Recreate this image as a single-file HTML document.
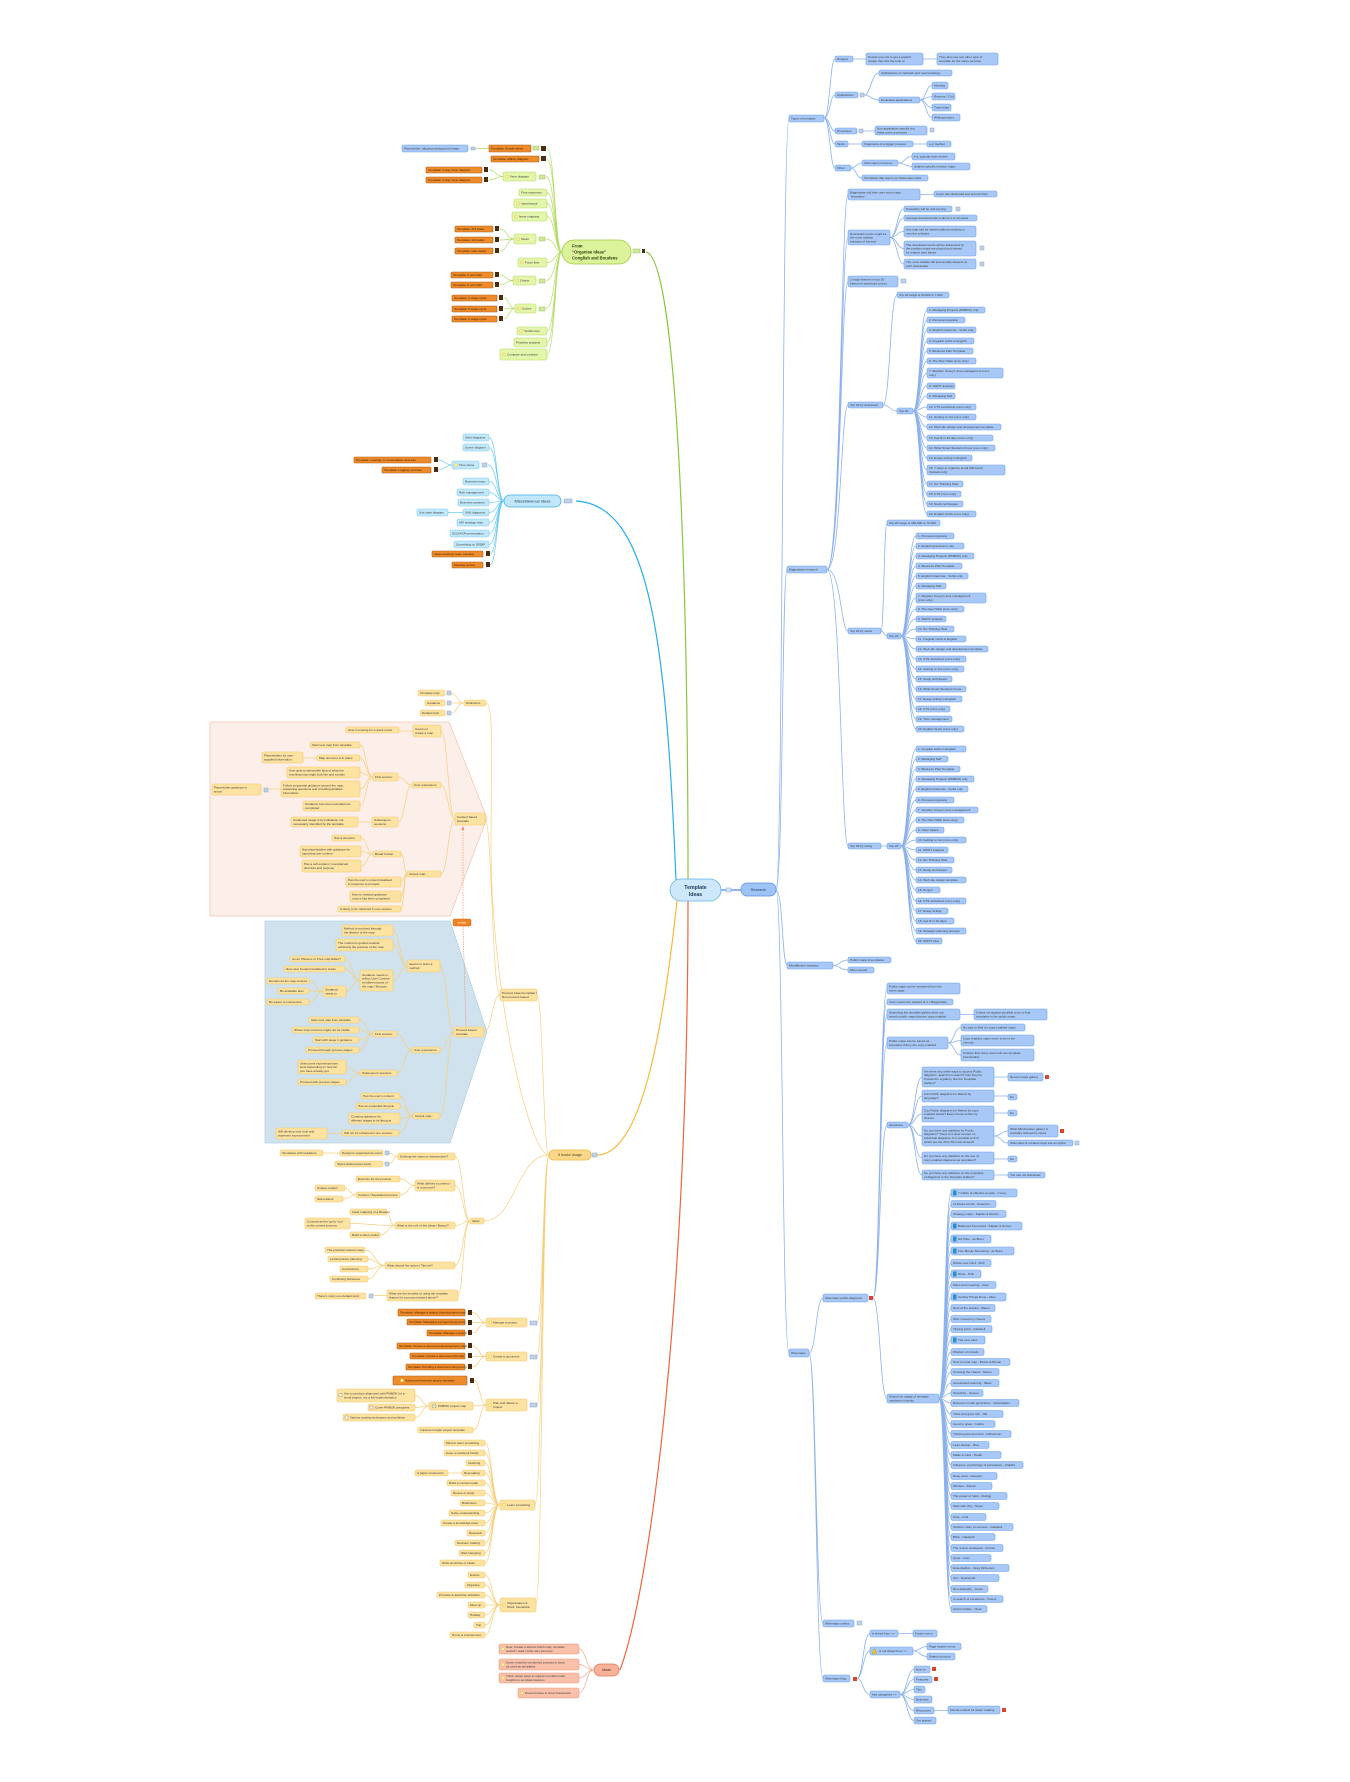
<!DOCTYPE html>
<html><head><meta charset="utf-8"><style>
html,body{margin:0;padding:0;background:#fff}
svg{display:block}
text{font-family:"Liberation Sans",sans-serif;font-size:3.1px;fill:#3a3a3a}
.b{fill:#a8c9f7;stroke:#6c9fe8;stroke-width:.6;rx:1.8px}
.g{fill:#e3f6ab;stroke:#b3dc5c;stroke-width:.6;rx:1.8px}
.o{fill:#ee8b2b;stroke:#a95f16;stroke-width:.6;rx:1px}
.c{fill:#c3e8fa;stroke:#79ccf1;stroke-width:.6;rx:1.8px}
.y{fill:#fde3a1;stroke:#f4c667;stroke-width:.6;rx:1.8px}
.r{fill:#f9c0aa;stroke:#ee9a7c;stroke-width:.6;rx:1.8px}
.ic{fill:#c0d3ec;stroke:#7a93b8;stroke-width:.4}
.gi{fill:#cfe89a;stroke:#8fb44a;stroke-width:.4}
.ar{fill:#4a2a10}
.rd{fill:#d9442c}
.bk{fill:#2d8fc9}
.bl{fill:#fff3a0;stroke:#d9b93a;stroke-width:.4}
.ot{fill:#3a1c00}
.eb{fill:none;stroke:#6f9fe8;stroke-opacity:.8;stroke-width:.8}
.eg{fill:none;stroke:#b5dc66;stroke-width:.7}
.ec{fill:none;stroke:#6ccaf0;stroke-width:.7}
.ey{fill:none;stroke:#f6cf7c;stroke-width:.7}
.er{fill:none;stroke:#f2a88e;stroke-width:.7}
</style></head><body>
<svg width="1350" height="1782" viewBox="0 0 1350 1782" xmlns="http://www.w3.org/2000/svg">
<!-- regions -->
<polygon points="210,722 449,722 487,818 450,916 210,916" fill="#fcefe9" stroke="#f3c9b2" stroke-width=".8"/>
<polygon points="265,921 450,921 487,1032 450,1143 265,1143" fill="#cfe2ee" stroke="#b5d3e6" stroke-width=".8"/>

<!-- main links -->
<path d="M688 879C688 560 676 258 646 252" fill="none" stroke="#8cc63f" stroke-width="1.2"/>
<path d="M676 880C666 640 650 505 576 501" fill="none" stroke="#29aee6" stroke-width="1.2"/>
<path d="M677 901C662 1040 640 1155 597 1155" fill="none" stroke="#f6b93b" stroke-width="1.2"/>
<path d="M688 901C688 1300 650 1590 620 1670" fill="none" stroke="#f0643c" stroke-width="1.2"/>
<path d="M721 890H741" fill="none" stroke="#4f8ae0" stroke-width="1.2"/>

<!-- blue edges -->
<path class="eb" d="M776 890C783 890 782 118 789 118M776 890C783 890 782 569 787 569M776 890C783 890 782 965 787 965M776 890C783 890 782 1353 789 1353
M824 118C830 118 830 59 835 59M824 118C830 118 830 95 835 95M824 118C830 118 830 131 835 131M824 118C830 118 830 144 835 144M824 118C830 118 830 168 835 168
M853 59H866M923 59H937M864 95C871 95 871 73 879 73M864 95C871 95 871 100 879 100
M920 100C926 100 926 85.5 932 85.5M920 100C926 100 926 96.5 932 96.5M920 100C926 100 926 107.5 932 107.5M920 100C926 100 926 117.5 932 117.5
M863 131H875M848 144H862M913 144H927M851 168C856 168 856 163 862 163M851 168C856 168 856 178 862 178
M898 163C905 163 905 156.5 912 156.5M898 163C905 163 905 166.5 912 166.5
M827 569.5C841 569.5 841 194.5 848 194.5M827 569.5C841 569.5 841 237.5 848 237.5M827 569.5C841 569.5 841 281.5 848 281.5M827 569.5C841 569.5 841 405 848 405M827 569.5C841 569.5 841 631 848 631M827 569.5C841 569.5 841 846 848 846
M920 194.5H934M890 237.5C897 237.5 897 209 904 209M890 237.5C897 237.5 897 218 904 218M890 237.5C897 237.5 897 231.5 904 231.5M890 237.5C897 237.5 897 248.5 904 248.5M890 237.5C897 237.5 897 264 904 264
M883 405C890 405 890 295 897 295M883 405C890 405 890 411 897 411
M913 411C920 411 920 310 927 310M913 411C920 411 920 320 927 320M913 411C920 411 920 330 927 330M913 411C920 411 920 341 927 341M913 411C920 411 920 351 927 351M913 411C920 411 920 361 927 361M913 411C920 411 920 373 927 373M913 411C920 411 920 386 927 386M913 411C920 411 920 396 927 396M913 411C920 411 920 407 927 407M913 411C920 411 920 417 927 417M913 411C920 411 920 427 927 427M913 411C920 411 920 438 927 438M913 411C920 411 920 448 927 448M913 411C920 411 920 458 927 458M913 411C920 411 920 470 927 470M913 411C920 411 920 484 927 484M913 411C920 411 920 494 927 494M913 411C920 411 920 504 927 504M913 411C920 411 920 514 927 514
M881 631C884 631 884 523 887 523M881 631C884 631 884 636 887 636
M901 636C908 636 908 536 916 536M901 636C908 636 908 546 916 546M901 636C908 636 908 556 916 556M901 636C908 636 908 566 916 566M901 636C908 636 908 576 916 576M901 636C908 636 908 586 916 586M901 636C908 636 908 598 916 598M901 636C908 636 908 609 916 609M901 636C908 636 908 619 916 619M901 636C908 636 908 629 916 629M901 636C908 636 908 639 916 639M901 636C908 636 908 649 916 649M901 636C908 636 908 659 916 659M901 636C908 636 908 669 916 669M901 636C908 636 908 679 916 679M901 636C908 636 908 689 916 689M901 636C908 636 908 699 916 699M901 636C908 636 908 709 916 709M901 636C908 636 908 719 916 719M901 636C908 636 908 729 916 729
M881 846H887
M901 846C908 846 908 749 916 749M901 846C908 846 908 759 916 759M901 846C908 846 908 769 916 769M901 846C908 846 908 779 916 779M901 846C908 846 908 789 916 789M901 846C908 846 908 800 916 800M901 846C908 846 908 810 916 810M901 846C908 846 908 820 916 820M901 846C908 846 908 830 916 830M901 846C908 846 908 840 916 840M901 846C908 846 908 850 916 850M901 846C908 846 908 860 916 860M901 846C908 846 908 870 916 870M901 846C908 846 908 880 916 880M901 846C908 846 908 890 916 890M901 846C908 846 908 901 916 901M901 846C908 846 908 911 916 911M901 846C908 846 908 921 916 921M901 846C908 846 908 931 916 931M901 846C908 846 908 941 916 941
M833 965.5C840 965.5 840 960 848 960M833 965.5C840 965.5 840 970 848 970
M809 1353C816 1353 816 1298 823 1298M809 1353C816 1353 816 1623.5 823 1623.5M809 1353C816 1353 816 1678.5 823 1678.5
M873 1298C880 1298 880 988.5 887 988.5M873 1298C880 1298 880 1002 887 1002M873 1298C880 1298 880 1014.5 887 1014.5M873 1298C880 1298 880 1043 887 1043M873 1298C880 1298 880 1125 887 1125M873 1298C880 1298 880 1398.5 887 1398.5
M960 1014.5H974M948 1043C954 1043 954 1027.5 961 1027.5M948 1043C954 1043 954 1040.5 961 1040.5M948 1043C954 1043 954 1055 961 1055
M908 1125C915 1125 915 1077 922 1077M908 1125C915 1125 915 1096 922 1096M908 1125C915 1125 915 1114 922 1114M908 1125C915 1125 915 1136 922 1136M908 1125C915 1125 915 1158 922 1158M908 1125C915 1125 915 1175 922 1175
M994 1077H1008M994 1096H1008M994 1113H1008M994 1136C1001 1136 1001 1131 1008 1131M994 1136C1001 1136 1001 1143 1008 1143M994 1159H1008M994 1175H1008
M939 1398.5C945 1398.5 945 1193 951 1193M939 1398.5C945 1398.5 945 1204 951 1204M939 1398.5C945 1398.5 945 1214 951 1214M939 1398.5C945 1398.5 945 1226 951 1226M939 1398.5C945 1398.5 945 1239 951 1239M939 1398.5C945 1398.5 945 1251 951 1251M939 1398.5C945 1398.5 945 1263 951 1263M939 1398.5C945 1398.5 945 1274 951 1274M939 1398.5C945 1398.5 945 1285 951 1285M939 1398.5C945 1398.5 945 1297 951 1297M939 1398.5C945 1398.5 945 1308 951 1308M939 1398.5C945 1398.5 945 1319 951 1319M939 1398.5C945 1398.5 945 1329 951 1329M939 1398.5C945 1398.5 945 1340 951 1340M939 1398.5C945 1398.5 945 1352 951 1352M939 1398.5C945 1398.5 945 1362 951 1362M939 1398.5C945 1398.5 945 1372 951 1372M939 1398.5C945 1398.5 945 1383 951 1383M939 1398.5C945 1398.5 945 1393 951 1393M939 1398.5C945 1398.5 945 1403 951 1403M939 1398.5C945 1398.5 945 1414 951 1414M939 1398.5C945 1398.5 945 1424 951 1424M939 1398.5C945 1398.5 945 1434 951 1434M939 1398.5C945 1398.5 945 1445 951 1445M939 1398.5C945 1398.5 945 1455 951 1455M939 1398.5C945 1398.5 945 1465 951 1465M939 1398.5C945 1398.5 945 1476 951 1476M939 1398.5C945 1398.5 945 1486 951 1486M939 1398.5C945 1398.5 945 1496 951 1496M939 1398.5C945 1398.5 945 1506 951 1506M939 1398.5C945 1398.5 945 1517 951 1517M939 1398.5C945 1398.5 945 1527 951 1527M939 1398.5C945 1398.5 945 1537 951 1537M939 1398.5C945 1398.5 945 1548 951 1548M939 1398.5C945 1398.5 945 1558 951 1558M939 1398.5C945 1398.5 945 1568 951 1568M939 1398.5C945 1398.5 945 1578 951 1578M939 1398.5C945 1398.5 945 1589 951 1589M939 1398.5C945 1398.5 945 1599 951 1599M939 1398.5C945 1398.5 945 1609 951 1609
M857 1678.5C863 1678.5 863 1633.5 870 1633.5M857 1678.5C863 1678.5 863 1651 870 1651M857 1678.5C863 1678.5 863 1694.5 870 1694.5
M898 1633.5H913M913 1651C920 1651 920 1646.5 927 1646.5M913 1651C920 1651 920 1656.5 927 1656.5
M900 1694.5C907 1694.5 907 1669.5 914 1669.5M900 1694.5C907 1694.5 907 1679.5 914 1679.5M900 1694.5C907 1694.5 907 1689.5 914 1689.5M900 1694.5C907 1694.5 907 1699.5 914 1699.5M900 1694.5C907 1694.5 907 1710.5 914 1710.5M900 1694.5C907 1694.5 907 1720.5 914 1720.5M934 1710.5H948"/>

<!-- green edges -->
<path class="eg" d="M562 252C555 252 555 148.5 547 148.5M562 252C555 252 555 159 547 159M562 252C555 252 555 176.5 546 176.5M562 252C555 252 555 192.5 547 192.5M562 252C555 252 555 203.5 547 203.5M562 252C555 252 555 216.5 547 216.5M562 252C555 252 555 239 546 239M562 252C555 252 555 262.5 547 262.5M562 252C555 252 555 280.5 546 280.5M562 252C555 252 555 308.5 546 308.5M562 252C555 252 555 331 547 331M562 252C555 252 555 342.5 547 342.5M562 252C555 252 555 354.5 547 354.5
M489 148.5H475M503 176.5C496 176.5 496 170 489 170M503 176.5C496 176.5 496 180 489 180
M514 239C507 239 507 229 500 229M514 239C507 239 507 240 500 240M514 239C507 239 507 251 500 251
M513 280.5C506 280.5 506 275 500 275M513 280.5C506 280.5 506 285 500 285
M515 308.5C509 308.5 509 298 504 298M515 308.5C509 308.5 509 309 504 309M515 308.5C509 308.5 509 319 504 319"/>

<!-- cyan edges -->
<path class="ec" d="M504 501C497 501 497 437.5 489 437.5M504 501C497 501 497 447.5 489 447.5M504 501C497 501 497 465 488 465M504 501C497 501 497 481.5 489 481.5M504 501C497 501 497 492.5 489 492.5M504 501C497 501 497 502.5 489 502.5M504 501C497 501 497 512.5 489 512.5M504 501C497 501 497 522.5 489 522.5M504 501C497 501 497 533.5 489 533.5M504 501C497 501 497 544.5 489 544.5M504 501C497 501 497 554 490 554M504 501C497 501 497 565 490 565
M452 465C445 465 445 460 438 460M452 465C445 465 445 470 438 470M463 512.5H448"/>

<!-- yellow edges -->
<path class="ey" d="M549 1155C530 1155 492 1000 491 850C491 760 494 703 486 703
M549 1155C543 1155 543 995 537 995M549 1155C516 1155 516 1221 484 1221
M549 1155C543 1155 543 1322.5 537 1322.5M549 1155C543 1155 543 1356.5 537 1356.5M549 1155C543 1155 543 1405 537 1405
M549 1155C542 1155 542 1505 535 1505M549 1155C542 1155 542 1605 536 1605
M500 995C492 995 492 819 485 819M500 995C492 995 492 1032 484 1032
M464 703C457 703 457 693 451 693M464 703H451M464 703C457 703 457 713 451 713
M455 819C448 819 448 731 441 731M455 819C448 819 448 785 441 785M455 819C448 819 448 873.5 441 873.5
M413 731H399M412 785C405 785 405 777 398 777M412 785C405 785 405 822 398 822
M373 777C366 777 366 745 360 745M373 777C366 777 366 758 360 758M373 777C366 777 366 772.5 360 772.5M373 777C366 777 366 789 360 789M373 777C366 777 366 806 360 806
M317 758H303M281 789H268M372 822H358
M407 873.5C404 873.5 404 854 401 854M407 873.5C404 873.5 404 882 401 882M407 873.5C404 873.5 404 896.5 401 896.5M407 873.5C404 873.5 404 909 401 909
M373 854C367 854 367 838 361 838M373 854C367 854 367 851.5 361 851.5M373 854C367 854 367 866 361 866
M454 1032C447 1032 447 966 440 966M454 1032C447 1032 447 1050 440 1050M454 1032C447 1032 447 1116 440 1116
M407 966C400 966 400 930.5 393 930.5M407 966C400 966 400 945 393 945M407 966C400 966 400 980.5 393 980.5
M360 980.5C352 980.5 352 959 345 959M360 980.5C352 980.5 352 969 345 969M360 980.5C352 980.5 352 991.5 346 991.5
M323 991.5C316 991.5 316 981 309 981M323 991.5C316 991.5 316 991 309 991M323 991.5C316 991.5 316 1002 309 1002
M412 1050C404 1050 404 1034 397 1034M412 1050C404 1050 404 1073 397 1073
M373 1034C366 1034 366 1020 359 1020M373 1034C366 1034 366 1030 359 1030M373 1034C366 1034 366 1040 359 1040M373 1034C366 1034 366 1050 359 1050
M360 1073C353 1073 353 1067 346 1067M360 1073C353 1073 353 1082 346 1082
M413 1116C406 1116 406 1096 400 1096M413 1116C406 1116 406 1106 400 1106M413 1116C406 1116 406 1118.5 400 1118.5M413 1116C406 1116 406 1133 399 1133M342 1133.5H327
M470 1221C463 1221 463 1156.5 455 1156.5M470 1221C463 1221 463 1185.5 455 1185.5M470 1221C463 1221 463 1225.5 455 1225.5M470 1221C463 1221 463 1265.5 455 1265.5M470 1221C463 1221 463 1295.5 458 1295.5
M398 1156.5C393 1156.5 393 1153 389 1153M398 1156.5C393 1156.5 393 1164 389 1164M340 1153H323
M415 1185.5C408 1185.5 408 1179 400 1179M415 1185.5C408 1185.5 408 1195 400 1195M356 1195C350 1195 350 1188 345 1188M356 1195C350 1195 350 1199 343 1199
M395 1225.5C390 1225.5 390 1212 387 1212M395 1225.5C372 1225.5 372 1223.5 350 1223.5M395 1225.5C388 1225.5 388 1235 380 1235
M385 1265.5C375 1265.5 375 1250 365 1250M385 1265.5C376 1265.5 376 1259 368 1259M385 1265.5C376 1265.5 376 1269 368 1269M385 1265.5C376 1265.5 376 1279 368 1279M387 1295.5H373
M486 1322.5C479 1322.5 479 1312.5 472 1312.5M486 1322.5H472M486 1322.5C479 1322.5 479 1333 472 1333
M486 1356.5C479 1356.5 479 1346 472 1346M486 1356.5H472M486 1356.5C479 1356.5 479 1367 472 1367
M486 1405C480 1405 480 1380.5 474 1380.5M486 1405C480 1405 480 1406 473 1406M486 1405C480 1405 480 1430 473 1430
M429 1406C422 1406 422 1395.5 415 1395.5M429 1406C422 1406 422 1407.5 415 1407.5M429 1406C422 1406 422 1417.5 415 1417.5
M500 1505C492 1505 492 1443 485 1443M500 1505C492 1505 492 1453 485 1453M500 1505C492 1505 492 1463 485 1463M500 1505C492 1505 492 1473 485 1473M500 1505C492 1505 492 1483 485 1483M500 1505C492 1505 492 1493 485 1493M500 1505C492 1505 492 1503 485 1503M500 1505C492 1505 492 1513 485 1513M500 1505C492 1505 492 1523 485 1523M500 1505C492 1505 492 1533 485 1533M500 1505C492 1505 492 1543 485 1543M500 1505C492 1505 492 1553 485 1553M500 1505C492 1505 492 1563 485 1563M462 1473H448
M500 1605C492 1605 492 1575 485 1575M500 1605C492 1605 492 1585 485 1585M500 1605C492 1605 492 1595 485 1595M500 1605C492 1605 492 1605 485 1605M500 1605C492 1605 492 1615 485 1615M500 1605C492 1605 492 1625 485 1625M500 1605C492 1605 492 1635 485 1635"/>

<!-- red edges -->
<path class="er" d="M594 1670C586 1670 586 1649 579 1649M594 1670C586 1670 586 1664.5 579 1664.5M594 1670C586 1670 586 1678 579 1678M594 1670C586 1670 586 1693 579 1693"/>

<!-- similar dashed -->
<path d="M463 827V919M463 926L466 1027" fill="none" stroke="#ee8a68" stroke-width=".6" stroke-dasharray="1.5 1"/>
<polygon points="461.5,830 463,826 464.5,830" fill="#ee8a68"/>
<rect x="453" y="919" width="18" height="7" rx="1.5" fill="#ef8424" stroke="#c4661a" stroke-width=".5"/><text x="462" y="923.6" text-anchor="middle" style="fill:#fff;font-size:3px">similar</text>

<!-- CENTER -->
<rect x="670" y="879" width="51" height="22" rx="11" fill="#cde8fb" stroke="#68b2e8" stroke-width=".8"/>
<text x="695.5" y="888.8" text-anchor="middle" style="font-size:5.2px;font-weight:bold;fill:#1f3a5a">Template</text>
<text x="695.5" y="895.8" text-anchor="middle" style="font-size:5.2px;font-weight:bold;fill:#1f3a5a">Ideas</text>
<rect x="726" y="888" width="5" height="4" fill="#dbe8fb" stroke="#5b8fe3" stroke-width=".4"/>
<rect x="741" y="883" width="35" height="13" rx="6" fill="#9ec3f5" stroke="#5b8fe3" stroke-width=".7"/>
<text x="758.5" y="891" text-anchor="middle" style="font-size:3.6px;fill:#1f3a5a">Research</text>

<!-- RESEARCH: types -->
<rect class="b" x="789" y="115" width="35" height="7"/><text x="791" y="119.6">Types of template</text>
<rect class="b" x="835" y="56" width="18" height="6"/><text x="837" y="60.1">Designs</text>
<rect class="b" x="866" y="53" width="57" height="12"/><text x="868" y="58.2">People use mis to get a graphic<tspan x="868" dy="3.8">design they like the look of</tspan></text>
<rect class="b" x="937" y="53" width="61" height="12"/><text x="939" y="58.2">They also use any other type of<tspan x="939" dy="3.8">template for the same purpose</tspan></text>
<rect class="b" x="835" y="92" width="23" height="6"/><text x="837" y="96.1">Applications</text><rect class="ic" x="860" y="93" width="4" height="4"/>
<rect class="b" x="879" y="70" width="73" height="6"/><text x="881" y="74.1">Applications of methods and macrostrategy</text>
<rect class="b" x="879" y="97" width="41" height="6"/><text x="881" y="101.1">Dedicated applications</text>
<rect class="b" x="932" y="82" width="16" height="7"/><text x="934" y="86.6">Meeting</text>
<rect class="b" x="932" y="93" width="23" height="7"/><text x="934" y="97.6">Resume / CVs</text>
<rect class="b" x="932" y="104" width="19" height="7"/><text x="934" y="108.6">Travel plan</text>
<rect class="b" x="932" y="114" width="28" height="7"/><text x="934" y="118.6">Writing project</text>
<rect class="b" x="835" y="128" width="22" height="6"/><text x="837" y="132.1">Processes</text><rect class="ic" x="859" y="129" width="4" height="4"/>
<rect class="b" x="875" y="126" width="52" height="9"/><text x="877" y="129.7">Non application specific but<tspan x="877" dy="3.8">helps users a process</tspan></text><rect class="ic" x="930" y="128" width="4" height="4"/>
<rect class="b" x="835" y="141" width="13" height="6"/><text x="837" y="145.1">Tasks</text>
<rect class="b" x="862" y="141" width="51" height="6"/><text x="864" y="145.1">Fragments of a bigger process</text>
<rect class="b" x="927" y="141" width="24" height="6"/><text x="929" y="145.1">e.g. GetSet</text>
<rect class="b" x="835" y="165" width="16" height="6"/><text x="837" y="169.1">Other</text>
<rect class="b" x="862" y="160" width="36" height="6"/><text x="864" y="164.1">Information resource</text>
<rect class="b" x="912" y="153" width="43" height="7"/><text x="914" y="157.6">e.g. popular tools review</text>
<rect class="b" x="912" y="163" width="58" height="7"/><text x="914" y="167.6">Subject specific revision maps</text>
<rect class="b" x="862" y="175" width="66" height="6"/><text x="864" y="179.1">Templates that teach you Wisemaps skills</text>

<!-- RESEARCH: biggerplate -->
<rect class="b" x="787" y="566" width="40" height="7"/><text x="789" y="570.6">Biggerplate research</text>
<rect class="b" x="848" y="189" width="72" height="11"/><text x="850" y="193.7">Biggerplate call their user mind maps<tspan x="850" dy="3.8">“templates”</tspan></text>
<rect class="b" x="934" y="191" width="63" height="6"/><text x="936" y="195.1">Users can download and amend them</text>
<rect class="b" x="848" y="230" width="42" height="15"/><text x="850" y="234.8">Download counts might be<tspan x="850" dy="3.8">the most realistic</tspan><tspan x="850" dy="3.8">indicator of interest</tspan></text>
<rect class="b" x="904" y="206" width="48" height="6"/><text x="906" y="210.1">Popularity will be self-serving</text><rect class="ic" x="956" y="207" width="4" height="4"/>
<rect class="b" x="904" y="215" width="73" height="6"/><text x="906" y="219.1">Average download rate is about 1 in 10 views</text>
<rect class="b" x="904" y="226" width="72" height="11"/><text x="906" y="230.7">Any map can be viewed without needing to<tspan x="906" dy="3.8">own the software</tspan></text>
<rect class="b" x="904" y="241" width="72" height="15"/><text x="906" y="245.8">The download counts will be influenced by<tspan x="906" dy="3.8">the position maps are placed and viewed</tspan><tspan x="906" dy="3.8">by relative user bases</tspan></text><rect class="ic" x="980" y="246" width="4" height="4"/>
<rect class="b" x="904" y="259" width="72" height="10"/><text x="906" y="263.2">The most reliable will presumably depend on<tspan x="906" dy="3.8">prior downloads</tspan></text><rect class="ic" x="980" y="262" width="4" height="4"/>
<rect class="b" x="848" y="276" width="50" height="11"/><text x="850" y="280.7">2 major themes in top 20<tspan x="850" dy="3.8">based on download counts</tspan></text><rect class="ic" x="901" y="279" width="5" height="4"/>
<rect class="b" x="848" y="402" width="35" height="6"/><text x="850" y="406.1">Top 20 by download</text>
<rect class="b" x="897" y="292" width="52" height="6"/><text x="899" y="296.1">Top 20 range is 20,000 to 7,000</text>
<rect class="b" x="897" y="408" width="16" height="6"/><text x="899" y="412.1">Top 20</text>
<rect class="b" x="927" y="307" width="58" height="6"/><text x="929" y="311.1">1. Managing Projects (PMBOK) only</text>
<rect class="b" x="927" y="317" width="38" height="6"/><text x="929" y="321.1">2. Personal organizer</text>
<rect class="b" x="927" y="327" width="49" height="6"/><text x="929" y="331.1">3. English Grammar - Verbs only</text>
<rect class="b" x="927" y="338" width="47" height="6"/><text x="929" y="342.1">4. Irregular verbs in English</text>
<rect class="b" x="927" y="348" width="46" height="6"/><text x="929" y="352.1">5. Business Plan Template</text>
<rect class="b" x="927" y="358" width="49" height="6"/><text x="929" y="362.1">6. The New Habit (xxxx only)</text>
<rect class="b" x="927" y="368" width="76" height="10"/><text x="929" y="372.2">7. Stephen Covey's time management (xxxx<tspan x="929" dy="3.8">only)</tspan></text>
<rect class="b" x="927" y="383" width="28" height="6"/><text x="929" y="387.1">8. SWOT analysis</text>
<rect class="b" x="927" y="393" width="28" height="6"/><text x="929" y="397.1">9. Managing Self</text>
<rect class="b" x="927" y="404" width="49" height="6"/><text x="929" y="408.1">10. CTS worksheet (xxxx only)</text>
<rect class="b" x="927" y="414" width="49" height="6"/><text x="929" y="418.1">11. Getting to Yes (xxxx only)</text>
<rect class="b" x="927" y="424" width="74" height="6"/><text x="929" y="428.1">12. Web site design and development template</text>
<rect class="b" x="927" y="435" width="66" height="6"/><text x="929" y="439.1">13. Get fit in 10 days (xxxx only)</text>
<rect class="b" x="927" y="445" width="68" height="6"/><text x="929" y="449.1">14. What Smart Students Know (xxxx only)</text>
<rect class="b" x="927" y="455" width="45" height="6"/><text x="929" y="459.1">15. Essay writing in English</text>
<rect class="b" x="927" y="465" width="78" height="10"/><text x="929" y="469.2">16. 7 ways to organize email (Microsoft<tspan x="929" dy="3.8">Outlook only)</tspan></text>
<rect class="b" x="927" y="481" width="36" height="6"/><text x="929" y="485.1">17. Six Thinking Hats</text>
<rect class="b" x="927" y="491" width="34" height="6"/><text x="929" y="495.1">18. CTS (xxxx only)</text>
<rect class="b" x="927" y="501" width="36" height="6"/><text x="929" y="505.1">19. Study techniques</text>
<rect class="b" x="927" y="511" width="49" height="6"/><text x="929" y="515.1">20. English Verbs (xxxx only)</text>

<rect class="b" x="848" y="628" width="33" height="6"/><text x="850" y="632.1">Top 20 by views</text>
<rect class="b" x="887" y="520" width="53" height="6"/><text x="889" y="524.1">Top 20 range is 450,000 to 70,000</text>
<rect class="b" x="887" y="633" width="14" height="6"/><text x="889" y="637.1">Top 20</text>
<rect class="b" x="916" y="533" width="38" height="6"/><text x="918" y="537.1">1. Personal organizer</text>
<rect class="b" x="916" y="543" width="48" height="6"/><text x="918" y="547.1">2. English grammar in use</text>
<rect class="b" x="916" y="553" width="58" height="6"/><text x="918" y="557.1">3. Managing Projects (PMBOK) only</text>
<rect class="b" x="916" y="563" width="46" height="6"/><text x="918" y="567.1">4. Business Plan Template</text>
<rect class="b" x="916" y="573" width="52" height="6"/><text x="918" y="577.1">5. English Grammar - Verbs only</text>
<rect class="b" x="916" y="583" width="30" height="6"/><text x="918" y="587.1">6. Managing Self</text>
<rect class="b" x="916" y="593" width="70" height="10"/><text x="918" y="597.2">7. Stephen Covey's time management<tspan x="918" dy="3.8">(xxxx only)</tspan></text>
<rect class="b" x="916" y="606" width="48" height="6"/><text x="918" y="610.1">8. The New Habit (xxxx only)</text>
<rect class="b" x="916" y="616" width="30" height="6"/><text x="918" y="620.1">9. SWOT analysis</text>
<rect class="b" x="916" y="626" width="38" height="6"/><text x="918" y="630.1">10. Six Thinking Hats</text>
<rect class="b" x="916" y="636" width="50" height="6"/><text x="918" y="640.1">11. Irregular verbs in English</text>
<rect class="b" x="916" y="646" width="72" height="6"/><text x="918" y="650.1">12. Web site design and development template</text>
<rect class="b" x="916" y="656" width="50" height="6"/><text x="918" y="660.1">13. CTS worksheet (xxxx only)</text>
<rect class="b" x="916" y="666" width="48" height="6"/><text x="918" y="670.1">14. Getting to Yes (xxxx only)</text>
<rect class="b" x="916" y="676" width="36" height="6"/><text x="918" y="680.1">15. Study techniques</text>
<rect class="b" x="916" y="686" width="50" height="6"/><text x="918" y="690.1">16. What Smart Students Know</text>
<rect class="b" x="916" y="696" width="46" height="6"/><text x="918" y="700.1">17. Essay writing in English</text>
<rect class="b" x="916" y="706" width="34" height="6"/><text x="918" y="710.1">18. CTS (xxxx only)</text>
<rect class="b" x="916" y="716" width="36" height="6"/><text x="918" y="720.1">19. Time management</text>
<rect class="b" x="916" y="726" width="48" height="6"/><text x="918" y="730.1">20. English Verbs (xxxx only)</text>

<rect class="b" x="848" y="843" width="33" height="6"/><text x="850" y="847.1">Top 20 by rating</text>
<rect class="b" x="887" y="843" width="14" height="6"/><text x="889" y="847.1">Top 20</text>
<rect class="b" x="916" y="746" width="50" height="6"/><text x="918" y="750.1">1. Irregular verbs in English</text>
<rect class="b" x="916" y="756" width="32" height="6"/><text x="918" y="760.1">2. Managing Self</text>
<rect class="b" x="916" y="766" width="44" height="6"/><text x="918" y="770.1">3. Business Plan Template</text>
<rect class="b" x="916" y="776" width="58" height="6"/><text x="918" y="780.1">4. Managing Projects (PMBOK) only</text>
<rect class="b" x="916" y="786" width="52" height="6"/><text x="918" y="790.1">5. English Grammar - Verbs only</text>
<rect class="b" x="916" y="797" width="38" height="6"/><text x="918" y="801.1">6. Personal organizer</text>
<rect class="b" x="916" y="807" width="62" height="6"/><text x="918" y="811.1">7. Stephen Covey's time management</text>
<rect class="b" x="916" y="817" width="48" height="6"/><text x="918" y="821.1">8. The New Habit (xxxx only)</text>
<rect class="b" x="916" y="827" width="28" height="6"/><text x="918" y="831.1">9. Open Space</text>
<rect class="b" x="916" y="837" width="50" height="6"/><text x="918" y="841.1">10. Getting to Yes (xxxx only)</text>
<rect class="b" x="916" y="847" width="32" height="6"/><text x="918" y="851.1">11. SWOT analysis</text>
<rect class="b" x="916" y="857" width="38" height="6"/><text x="918" y="861.1">12. Six Thinking Hats</text>
<rect class="b" x="916" y="867" width="36" height="6"/><text x="918" y="871.1">13. Study techniques</text>
<rect class="b" x="916" y="877" width="50" height="6"/><text x="918" y="881.1">14. Web site design template</text>
<rect class="b" x="916" y="887" width="24" height="6"/><text x="918" y="891.1">15. Project</text>
<rect class="b" x="916" y="898" width="50" height="6"/><text x="918" y="902.1">16. CTS worksheet (xxxx only)</text>
<rect class="b" x="916" y="908" width="32" height="6"/><text x="918" y="912.1">17. Essay writing</text>
<rect class="b" x="916" y="918" width="38" height="6"/><text x="918" y="922.1">18. Get fit in 10 days</text>
<rect class="b" x="916" y="928" width="50" height="6"/><text x="918" y="932.1">19. Strategic planning process</text>
<rect class="b" x="916" y="938" width="26" height="6"/><text x="918" y="942.1">20. SWOT plus</text>

<rect class="b" x="787" y="962" width="46" height="7"/><text x="789" y="966.6">MindMeister statistics</text>
<rect class="b" x="848" y="957" width="43" height="6"/><text x="850" y="961.1">Public maps &amp; templates</text>
<rect class="b" x="848" y="967" width="26" height="6"/><text x="850" y="971.1">Most viewed</text>

<!-- RESEARCH: wisemaps -->
<rect class="b" x="789" y="1349" width="20" height="8"/><text x="791" y="1354.1">Wisemaps</text>
<rect class="b" x="823" y="1294" width="45" height="8"/><text x="825" y="1299.1">Wisemaps public diagrams</text><rect class="rd" x="869" y="1296" width="4" height="4"/>
<rect class="b" x="887" y="983" width="73" height="11"/><text x="889" y="987.7">Public maps can be searched from the<tspan x="889" dy="3.8">home page</tspan></text>
<rect class="b" x="887" y="999" width="66" height="6"/><text x="889" y="1003.1">View counts are capped at 1 x Biggerplate</text>
<rect class="b" x="887" y="1009" width="73" height="11"/><text x="889" y="1013.7">Searching the template gallery does not<tspan x="889" dy="3.8">search public maps that are copy enabled</tspan></text>
<rect class="b" x="974" y="1009" width="73" height="11"/><text x="976" y="1013.7">It does not appear possible to try to find<tspan x="976" dy="3.8">templates in the public maps</tspan></text>
<rect class="b" x="887" y="1037" width="61" height="12"/><text x="889" y="1042.2">Public maps can be saved as<tspan x="889" dy="3.8">templates if they are copy enabled</tspan></text>
<rect class="b" x="961" y="1024" width="64" height="7"/><text x="963" y="1028.6">No way to filter for copy enabled maps</text>
<rect class="b" x="961" y="1035" width="73" height="11"/><text x="963" y="1039.7">Copy enabled maps seem to be in the<tspan x="963" dy="3.8">minority</tspan></text>
<rect class="b" x="961" y="1049" width="73" height="12"/><text x="963" y="1054.2">Unlikely that many users will use template<tspan x="963" dy="3.8">functionality</tspan></text>
<rect class="b" x="887" y="1122" width="21" height="6"/><text x="889" y="1126.1">Questions</text>
<rect class="b" x="922" y="1067" width="72" height="20"/><text x="924" y="1072.4">Are there any other ways to access Public<tspan x="924" dy="3.8">diagrams, apart from search? Can they be</tspan><tspan x="924" dy="3.8">browsed in a gallery, like the Template</tspan><tspan x="924" dy="3.8">Gallery?</tspan></text>
<rect class="b" x="1008" y="1073" width="35" height="8"/><text x="1010" y="1078.1">Recent maps gallery</text><rect class="rd" x="1045" y="1075" width="4" height="4"/>
<rect class="b" x="922" y="1090" width="72" height="12"/><text x="924" y="1095.2">Can Public diagrams be filtered by<tspan x="924" dy="3.8">language?</tspan></text>
<rect class="b" x="1008" y="1094" width="9" height="6"/><text x="1010" y="1098.1">No</text>
<rect class="b" x="922" y="1106" width="72" height="16"/><text x="924" y="1111.3">Can Public diagrams be filtered by copy<tspan x="924" dy="3.8">enabled status? Every theme a filter by</tspan><tspan x="924" dy="3.8">chance.</tspan></text>
<rect class="b" x="1008" y="1110" width="9" height="6"/><text x="1010" y="1114.1">No</text>
<rect class="b" x="922" y="1126" width="72" height="20"/><text x="924" y="1131.4">Do you have any statistics for Public<tspan x="924" dy="3.8">diagrams? There is a view counter on</tspan><tspan x="924" dy="3.8">individual diagrams. Is it possible to find</tspan><tspan x="924" dy="3.8">which are the 20 to 50 most viewed?</tspan></text>
<rect class="b" x="1008" y="1125" width="50" height="12"/><text x="1010" y="1130.2">What Mindmeister gallery is<tspan x="1010" dy="3.8">probably ordered by views</tspan></text><rect class="rd" x="1060" y="1129" width="4" height="4"/>
<rect class="b" x="1008" y="1140" width="65" height="6"/><text x="1010" y="1144.1">Wisemaps &amp; unrated maps are an option</text><rect class="ic" x="1075" y="1141" width="4" height="4"/>
<rect class="b" x="922" y="1152" width="72" height="12"/><text x="924" y="1157.2">Do you have any statistics on the use of<tspan x="924" dy="3.8">copy enabled diagrams as templates?</tspan></text>
<rect class="b" x="1008" y="1156" width="9" height="6"/><text x="1010" y="1160.1">No</text>
<rect class="b" x="922" y="1170" width="72" height="10"/><text x="924" y="1174.2">Do you have any statistics on the popularity<tspan x="924" dy="3.8">of diagrams in the Template Gallery?</tspan></text>
<rect class="b" x="1008" y="1172" width="37" height="6"/><text x="1010" y="1176.1">You can not download</text>
<rect class="b" x="887" y="1394" width="52" height="9"/><text x="889" y="1397.7">Search for usage of template<tspan x="889" dy="3.8">mentions in books</tspan></text>

<!-- books -->
<rect class="b" x="951" y="1189" width="66" height="8"/><rect class="bk" x="953" y="1190.5" width="3.5" height="5"/><text x="958" y="1194.1">7 habits of effective people - Covey</text>
<rect class="b" x="951" y="1200.5" width="45" height="7"/><text x="953" y="1205.1">12 Rules for life - Peterson</text>
<rect class="b" x="951" y="1210.5" width="55" height="7"/><text x="953" y="1215.1">Strategy maps - Kaplan &amp; Norton</text>
<rect class="b" x="951" y="1222" width="71" height="8"/><rect class="bk" x="953" y="1223.5" width="3.5" height="5"/><text x="958" y="1227.1">Balanced Scorecard - Kaplan &amp; Norton</text>
<rect class="b" x="951" y="1235" width="40" height="8"/><rect class="bk" x="953" y="1236.5" width="3.5" height="5"/><text x="958" y="1240.1">Six Hats - de Bono</text>
<rect class="b" x="951" y="1247" width="63" height="8"/><rect class="bk" x="953" y="1248.5" width="3.5" height="5"/><text x="958" y="1252.1">Five Minute Mentoring - de Bono</text>
<rect class="b" x="951" y="1259.5" width="40" height="7"/><text x="953" y="1264.1">Whole new mind - Pink</text>
<rect class="b" x="951" y="1270" width="30" height="8"/><rect class="bk" x="953" y="1271.5" width="3.5" height="5"/><text x="958" y="1275.1">Drive - Pink</text>
<rect class="b" x="951" y="1281.5" width="45" height="7"/><text x="953" y="1286.1">Mans and meaning - Gray</text>
<rect class="b" x="951" y="1293" width="55" height="8"/><rect class="bk" x="953" y="1294.5" width="3.5" height="5"/><text x="958" y="1298.1">Getting Things Done - Allen</text>
<rect class="b" x="951" y="1304.5" width="44" height="7"/><text x="953" y="1309.1">Rest of the surplus - Baum</text>
<rect class="b" x="951" y="1315.5" width="40" height="7"/><text x="953" y="1320.1">Who moved my cheese</text>
<rect class="b" x="951" y="1325.5" width="41" height="7"/><text x="953" y="1330.1">Tipping point - Gladwell</text>
<rect class="b" x="951" y="1336" width="34" height="8"/><rect class="bk" x="953" y="1337.5" width="3.5" height="5"/><text x="958" y="1341.1">The new rules</text>
<rect class="b" x="951" y="1348.5" width="33" height="7"/><text x="953" y="1353.1">Wisdom of crowds</text>
<rect class="b" x="951" y="1358.5" width="59" height="7"/><text x="953" y="1363.1">How to mind map - Buzan &amp; Buzan</text>
<rect class="b" x="951" y="1368.5" width="48" height="7"/><text x="953" y="1373.1">Crossing the chasm - Moore</text>
<rect class="b" x="951" y="1379.5" width="48" height="7"/><text x="953" y="1384.1">Accelerated learning - Meier</text>
<rect class="b" x="951" y="1389.5" width="32" height="7"/><text x="953" y="1394.1">Simplicity - Jensen</text>
<rect class="b" x="951" y="1399.5" width="68" height="7"/><text x="953" y="1404.1">Business model generation - Osterwalder</text>
<rect class="b" x="951" y="1410.5" width="52" height="7"/><text x="953" y="1415.1">Think and grow rich - Hill</text>
<rect class="b" x="951" y="1420.5" width="44" height="7"/><text x="953" y="1425.1">Good to great - Collins</text>
<rect class="b" x="951" y="1430.5" width="60" height="7"/><text x="953" y="1435.1">Thinking fast and slow - Kahneman</text>
<rect class="b" x="951" y="1441.5" width="38" height="7"/><text x="953" y="1446.1">Lean startup - Ries</text>
<rect class="b" x="951" y="1451.5" width="50" height="7"/><text x="953" y="1456.1">Made to stick - Heath</text>
<rect class="b" x="951" y="1461.5" width="72" height="7"/><text x="953" y="1466.1">Influence: psychology of persuasion - Cialdini</text>
<rect class="b" x="951" y="1472.5" width="46" height="7"/><text x="953" y="1477.1">Deep work - Newport</text>
<rect class="b" x="951" y="1482.5" width="41" height="7"/><text x="953" y="1487.1">Mindset - Dweck</text>
<rect class="b" x="951" y="1492.5" width="56" height="7"/><text x="953" y="1497.1">The power of habit - Duhigg</text>
<rect class="b" x="951" y="1502.5" width="48" height="7"/><text x="953" y="1507.1">Start with why - Sinek</text>
<rect class="b" x="951" y="1513.5" width="35" height="7"/><text x="953" y="1518.1">Flow - Czik</text>
<rect class="b" x="951" y="1523.5" width="62" height="7"/><text x="953" y="1528.1">Outliers: story of success - Gladwell</text>
<rect class="b" x="951" y="1533.5" width="44" height="7"/><text x="953" y="1538.1">Blink - Gladwell</text>
<rect class="b" x="951" y="1544.5" width="52" height="7"/><text x="953" y="1549.1">The 4-hour workweek - Ferriss</text>
<rect class="b" x="951" y="1554.5" width="40" height="7"/><text x="953" y="1559.1">Quiet - Cain</text>
<rect class="b" x="951" y="1564.5" width="58" height="7"/><text x="953" y="1569.1">Essentialism - Greg McKeown</text>
<rect class="b" x="951" y="1574.5" width="48" height="7"/><text x="953" y="1579.1">Grit - Duckworth</text>
<rect class="b" x="951" y="1585.5" width="37" height="7"/><text x="953" y="1590.1">Non allopathy - Grass</text>
<rect class="b" x="951" y="1595.5" width="52" height="7"/><text x="953" y="1600.1">In search of excellence - Peters</text>
<rect class="b" x="951" y="1605.5" width="36" height="7"/><text x="953" y="1610.1">Atomic habits - Clear</text>

<rect class="b" x="823" y="1620" width="31" height="7"/><text x="825" y="1624.6">Wisemaps unities</text><rect class="ic" x="857" y="1621" width="5" height="4"/>
<rect class="b" x="823" y="1675" width="27" height="7"/><text x="825" y="1679.6">Wisemaps blog</text><rect class="rd" x="853" y="1677" width="4" height="4"/>
<rect class="b" x="870" y="1630" width="28" height="7"/><text x="872" y="1634.6">is linked from &gt;&gt;</text>
<rect class="b" x="913" y="1630" width="24" height="7"/><text x="915" y="1634.6">Footer menu</text>
<rect class="b" x="870" y="1647" width="43" height="8"/><polygon points="872,1653.5 874.5,1648.5 877,1653.5" fill="#f2c21b" stroke="#b08a10" stroke-width=".3"/><text x="879" y="1652.1">is not linked from &gt;&gt;</text>
<rect class="b" x="927" y="1643" width="34" height="7"/><text x="929" y="1647.6">Page header menu</text>
<rect class="b" x="927" y="1653" width="28" height="7"/><text x="929" y="1657.6">Search function</text>
<rect class="b" x="870" y="1691" width="30" height="7"/><text x="872" y="1695.6">has categories &gt;&gt;</text>
<rect class="b" x="914" y="1666" width="16" height="7"/><text x="916" y="1670.6">How to</text><rect class="rd" x="932" y="1667" width="4" height="4"/>
<rect class="b" x="914" y="1676" width="18" height="7"/><text x="916" y="1680.6">Features</text><rect class="rd" x="934" y="1677" width="4" height="4"/>
<rect class="b" x="914" y="1686" width="11" height="7"/><text x="916" y="1690.6">Tips</text>
<rect class="b" x="914" y="1696" width="18" height="7"/><text x="916" y="1700.6">Business</text>
<rect class="b" x="914" y="1707" width="20" height="7"/><text x="916" y="1711.6">Resources</text>
<rect class="b" x="948" y="1706" width="52" height="8"/><text x="950" y="1711.1">Mental models for faster reading</text><rect class="rd" x="1002" y="1708" width="4" height="4"/>
<rect class="b" x="914" y="1717" width="22" height="7"/><text x="916" y="1721.6">Get started</text>

<!-- GREEN -->
<rect x="562" y="240" width="69" height="24" rx="12" fill="#dcf39c" stroke="#9bcb3e" stroke-width=".8"/>
<text x="572" y="247.5" style="font-size:4.2px;font-weight:bold;fill:#2f3f0c">From</text>
<text x="572" y="253.5" style="font-size:4.2px;font-weight:bold;fill:#2f3f0c">“Organise Ideas”</text>
<text x="572" y="259.5" style="font-size:4.2px;font-weight:bold;fill:#2f3f0c">Conglish and Boudens</text>
<rect class="gi" x="633" y="249" width="7" height="4"/><rect class="ar" x="642" y="249" width="3" height="4"/>
<rect class="o" x="489" y="145" width="42" height="7"/><text class="ot" x="491" y="149.6">Template: Simple Ideas</text><rect class="gi" x="533" y="146" width="6" height="4"/><rect class="ar" x="541" y="146" width="5" height="5"/>
<rect class="b" x="402" y="145" width="66" height="7"/><text x="404" y="149.6">Placeholder: aligning background image</text><rect class="ic" x="471" y="147" width="4" height="3"/>
<rect class="o" x="491" y="156" width="48" height="6"/><text class="ot" x="493" y="160.1">Template: Affinity diagram</text><rect class="ar" x="541" y="156" width="5" height="5"/>
<rect class="g" x="503" y="172" width="33" height="9"/><circle class="bl" cx="507" cy="176.5" r="1.6"/><text x="510" y="177.6">Venn diagram</text><rect class="gi" x="539" y="175" width="6" height="4"/>
<rect class="o" x="426" y="167" width="56" height="6"/><text class="ot" x="428" y="171.1">Template: 3 way Venn diagram</text><rect class="ar" x="484" y="167" width="4" height="5"/>
<rect class="o" x="426" y="177" width="56" height="6"/><text class="ot" x="428" y="181.1">Template: 2 way Venn diagram</text><rect class="ar" x="484" y="177" width="4" height="5"/>
<rect class="g" x="519" y="189" width="28" height="7"/><text x="521" y="193.6">Flow sequence</text>
<rect class="g" x="514" y="199" width="33" height="9"/><circle class="bl" cx="518" cy="203.5" r="1.6"/><text x="521" y="204.6">Input/output</text>
<rect class="g" x="512" y="212" width="35" height="9"/><circle class="bl" cx="516" cy="216.5" r="1.6"/><text x="519" y="217.6">Issue mapping</text>
<rect class="g" x="514" y="234" width="22" height="10"/><circle class="bl" cx="518" cy="239" r="1.6"/><text x="521" y="240.1">Tasks</text><rect class="gi" x="539" y="237" width="6" height="4"/>
<rect class="o" x="455" y="226" width="38" height="6"/><text class="ot" x="457" y="230.1">Template: 3x3 tasks</text><rect class="ar" x="495" y="226" width="4" height="5"/>
<rect class="o" x="455" y="237" width="38" height="6"/><text class="ot" x="457" y="241.1">Template: 4x4 tasks</text><rect class="ar" x="495" y="237" width="4" height="5"/>
<rect class="o" x="455" y="248" width="38" height="6"/><text class="ot" x="457" y="252.1">Template: task matrix</text><rect class="ar" x="495" y="248" width="4" height="5"/>
<rect class="g" x="518" y="258" width="29" height="9"/><circle class="bl" cx="522" cy="262.5" r="1.6"/><text x="525" y="263.6">Force flow</text>
<rect class="g" x="513" y="276" width="23" height="9"/><circle class="bl" cx="517" cy="280.5" r="1.6"/><text x="520" y="281.6">Charts</text><rect class="gi" x="539" y="279" width="6" height="4"/>
<rect class="o" x="451" y="272" width="42" height="6"/><text class="ot" x="453" y="276.1">Template: 4 cell chart</text><rect class="ar" x="495" y="272" width="4" height="5"/>
<rect class="o" x="451" y="282" width="42" height="6"/><text class="ot" x="453" y="286.1">Template: 9 cell chart</text><rect class="ar" x="495" y="282" width="4" height="5"/>
<rect class="g" x="515" y="304" width="21" height="9"/><circle class="bl" cx="519" cy="308.5" r="1.6"/><text x="522" y="309.6">Cycles</text><rect class="gi" x="539" y="307" width="6" height="4"/>
<rect class="o" x="452" y="295" width="45" height="6"/><text class="ot" x="454" y="299.1">Template: 4 stage cycle</text><rect class="ar" x="499" y="295" width="4" height="5"/>
<rect class="o" x="452" y="306" width="45" height="6"/><text class="ot" x="454" y="310.1">Template: 5 stage cycle</text><rect class="ar" x="499" y="306" width="4" height="5"/>
<rect class="o" x="452" y="316" width="45" height="6"/><text class="ot" x="454" y="320.1">Template: 6 stage cycle</text><rect class="ar" x="499" y="316" width="4" height="5"/>
<rect class="g" x="517" y="327" width="30" height="8"/><circle class="bl" cx="521" cy="331" r="1.6"/><text x="524" y="332.1">Test/fences</text>
<rect class="g" x="514" y="338" width="33" height="9"/><text x="516" y="343.6">Priorities analysis</text>
<rect class="g" x="500" y="349" width="47" height="11"/><circle class="bl" cx="504" cy="354.5" r="1.6"/><text x="507" y="355.6">Compare and contrast</text>

<!-- CYAN -->
<rect x="504" y="495" width="57" height="12" rx="6" fill="#c2e7fa" stroke="#3fb1e5" stroke-width=".8"/>
<text x="532.5" y="502.4" text-anchor="middle" style="font-size:4px;fill:#1b3a4a">Miscellaneous ideas</text>
<rect class="ic" x="564" y="499" width="8" height="4"/>
<rect class="c" x="463" y="434" width="26" height="7"/><text x="465" y="438.6">Orbit diagrams</text>
<rect class="c" x="463" y="444" width="26" height="7"/><text x="465" y="448.6">Scene diagram</text>
<rect class="c" x="452" y="461" width="27" height="8"/><circle class="bl" cx="456" cy="465" r="1.6"/><text x="459" y="466.1">Time plans</text><rect class="ic" x="482" y="463" width="5" height="4"/>
<rect class="o" x="354" y="457" width="77" height="6"/><text class="ot" x="356" y="461.1">Template: meeting or conversation structure</text><rect class="ar" x="434" y="457" width="4" height="5"/>
<rect class="o" x="382" y="467" width="49" height="6"/><text class="ot" x="384" y="471.1">Template: Logging exercise</text><rect class="ar" x="434" y="467" width="4" height="5"/>
<rect class="c" x="463" y="478" width="26" height="7"/><text x="465" y="482.6">Business team</text>
<rect class="c" x="457" y="489" width="32" height="7"/><text x="459" y="493.6">Risk management</text>
<rect class="c" x="458" y="499" width="31" height="7"/><text x="460" y="503.6">Business systems</text>
<rect class="c" x="463" y="509" width="26" height="7"/><text x="465" y="513.6">UML diagrams</text>
<rect class="c" x="417" y="509" width="31" height="7"/><text x="419" y="513.6">Use case diagram</text>
<rect class="c" x="457" y="519" width="32" height="7"/><text x="459" y="523.6">KPI strategy map</text>
<rect class="c" x="450" y="530" width="39" height="7"/><text x="452" y="534.6">SCQ/ASP presentation</text>
<rect class="c" x="454" y="541" width="35" height="7"/><text x="456" y="545.6">Something on DfSBP</text>
<rect class="o" x="432" y="551" width="51" height="6"/><text class="ot" x="434" y="555.1">Ideas meeting: team meeting</text><rect class="ar" x="486" y="551" width="4" height="5"/>
<rect class="o" x="452" y="562" width="31" height="6"/><text class="ot" x="454" y="566.1">Meeting review</text><rect class="ar" x="486" y="562" width="4" height="5"/>

<!-- YELLOW main -->
<rect x="549" y="1150" width="42" height="10" rx="5" fill="#fcd98a" stroke="#f0b43a" stroke-width=".8"/>
<text x="570" y="1156.2" text-anchor="middle" style="font-size:3.6px;fill:#4a3a10">5 books Usage</text>
<rect class="ic" x="592" y="1153" width="5" height="4"/>

<rect class="y" x="464" y="700" width="22" height="6"/><text x="466" y="704.1">Definitions</text>
<rect class="y" x="418" y="690" width="27" height="6"/><text x="420" y="694.1">Template map</text><rect class="ic" x="447" y="691" width="4" height="4"/>
<rect class="y" x="425" y="700" width="20" height="6"/><text x="427" y="704.1">Guidance</text><rect class="ic" x="447" y="701" width="4" height="4"/>
<rect class="y" x="420" y="710" width="25" height="6"/><text x="422" y="714.1">Default topic</text><rect class="ic" x="447" y="711" width="4" height="4"/>
<rect class="y" x="500" y="989" width="37" height="12"/><text x="502" y="994.2">Process based template /<tspan x="502" dy="3.8">Non process based</tspan></text>
<rect class="y" x="455" y="813" width="30" height="12"/><text x="457" y="818.2">Content based<tspan x="457" dy="3.8">template</tspan></text>
<rect class="y" x="413" y="725" width="28" height="12"/><text x="415" y="730.2">Goal is to<tspan x="415" dy="3.8">create a map</tspan></text>
<rect class="y" x="346" y="727" width="53" height="6"/><text x="348" y="731.1">User is looking for a quick result</text>
<rect class="y" x="412" y="782" width="29" height="6"/><text x="414" y="786.1">User experience</text>
<rect class="y" x="373" y="773" width="25" height="8"/><text x="375" y="778.1">First session</text>
<rect class="y" x="310" y="742" width="50" height="6"/><text x="312" y="746.1">Start new map from template</text>
<rect class="y" x="317" y="755" width="43" height="6"/><text x="319" y="759.1">Map structure is in place</text>
<rect class="y" x="262" y="752" width="41" height="11"/><text x="264" y="756.7">Placeholders for user<tspan x="264" dy="3.8">supplied information</tspan></text>
<rect class="y" x="287" y="767" width="73" height="11"/><text x="289" y="771.7">User gets a reasonable idea of what the<tspan x="289" dy="3.8">resulting map might look like and contain</tspan></text>
<rect class="y" x="281" y="781" width="79" height="16"/><text x="283" y="786.3">Follow sequential guidance around the map,<tspan x="283" dy="3.8">answering questions and providing detailed</tspan><tspan x="283" dy="3.8">information</tspan></text>
<rect class="y" x="212" y="784" width="49" height="11"/><text x="214" y="788.7">Placeholder guidance is<tspan x="214" dy="3.8">smart</tspan></text><rect class="ic" x="264" y="788" width="4" height="4"/>
<rect class="y" x="303" y="801" width="57" height="10"/><text x="305" y="805.2">Guidance becomes redundant as<tspan x="305" dy="3.8">completed</tspan></text>
<rect class="y" x="372" y="817" width="26" height="10"/><text x="374" y="821.2">Subsequent<tspan x="374" dy="3.8">sessions</tspan></text>
<rect class="y" x="291" y="817" width="67" height="10"/><text x="293" y="821.2">Continued usage is by individual, not<tspan x="293" dy="3.8">necessarily identified by the template</tspan></text>
<rect class="y" x="407" y="871" width="34" height="6"/><text x="409" y="875.1">Output map...</text>
<rect class="y" x="373" y="851" width="28" height="6"/><text x="375" y="855.1">Broad format</text>
<rect class="y" x="332" y="835" width="29" height="6"/><text x="334" y="839.1">Has a structure</text>
<rect class="y" x="300" y="846" width="61" height="11"/><text x="302" y="850.7">Has placeholders with guidance for<tspan x="302" dy="3.8">capturing user content</tspan></text>
<rect class="y" x="302" y="860" width="59" height="12"/><text x="304" y="865.2">Has a self-evident / unexplained<tspan x="304" dy="3.8">structure and purpose</tspan></text>
<rect class="y" x="346" y="877" width="55" height="10"/><text x="348" y="881.2">Has the user's content idealised<tspan x="348" dy="3.8">in response to prompts</tspan></text>
<rect class="y" x="350" y="891" width="51" height="11"/><text x="352" y="895.7">Has no residual guidance<tspan x="352" dy="3.8">once it has been completed</tspan></text>
<rect class="y" x="338" y="906" width="63" height="6"/><text x="340" y="910.1">Is likely to be reframed in one session</text>

<rect class="y" x="454" y="1027" width="30" height="10"/><text x="456" y="1031.2">Process based<tspan x="456" dy="3.8">template</tspan></text>
<rect class="y" x="407" y="960" width="33" height="12"/><text x="409" y="965.2">Goal is to learn a<tspan x="409" dy="3.8">method</tspan></text>
<rect class="y" x="342" y="925" width="51" height="11"/><text x="344" y="929.7">Method is resolved through<tspan x="344" dy="3.8">the lifetime of the map</tspan></text>
<rect class="y" x="336" y="939" width="57" height="12"/><text x="338" y="944.2">The method is guided towards<tspan x="338" dy="3.8">achieving the purpose of the map</tspan></text>
<rect class="y" x="360" y="970" width="33" height="21"/><text x="362" y="975.9">Guidance needs to<tspan x="362" dy="3.8">reflect User Content</tspan><tspan x="362" dy="3.8">at different parts of</tspan><tspan x="362" dy="3.8">the map / lifecycle</tspan></text>
<rect class="y" x="290" y="956" width="55" height="6"/><text x="292" y="960.1">As an XSource or Free map Editor?</text>
<rect class="y" x="284" y="966" width="61" height="6"/><text x="286" y="970.1">New user Content localised to areas</text>
<rect class="y" x="323" y="986" width="23" height="11"/><text x="325" y="990.7">Guidance<tspan x="325" dy="3.8">needs to</tspan></text>
<rect class="y" x="267" y="978" width="42" height="6"/><text x="269" y="982.1">Remain as the map evolves</text>
<rect class="y" x="278" y="988" width="31" height="6"/><text x="280" y="992.1">Be available later</text>
<rect class="y" x="267" y="999" width="42" height="6"/><text x="269" y="1003.1">Be easier to manoeuvre</text>
<rect class="y" x="412" y="1047" width="28" height="6"/><text x="414" y="1051.1">User experience</text>
<rect class="y" x="373" y="1031" width="24" height="6"/><text x="375" y="1035.1">First session</text>
<rect class="y" x="309" y="1017" width="50" height="6"/><text x="311" y="1021.1">Start new map from template</text>
<rect class="y" x="292" y="1027" width="67" height="6"/><text x="294" y="1031.1">Whole map structure might not be visible</text>
<rect class="y" x="313" y="1037" width="46" height="6"/><text x="315" y="1041.1">Start with stage 1 guidance</text>
<rect class="y" x="306" y="1047" width="53" height="6"/><text x="308" y="1051.1">Proceed through process stages</text>
<rect class="y" x="360" y="1070" width="37" height="6"/><text x="362" y="1074.1">Subsequent sessions</text>
<rect class="y" x="298" y="1060" width="48" height="14"/><text x="300" y="1064.3">Select new experience/user<tspan x="300" dy="3.8">level depending on how far</tspan><tspan x="300" dy="3.8">you have already got</tspan></text>
<rect class="y" x="298" y="1079" width="48" height="6"/><text x="300" y="1083.1">Proceed with process stages</text>
<rect class="y" x="413" y="1113" width="27" height="6"/><text x="415" y="1117.1">Output map...</text>
<rect class="y" x="361" y="1093" width="39" height="6"/><text x="363" y="1097.1">Has the user's content</text>
<rect class="y" x="356" y="1103" width="44" height="6"/><text x="358" y="1107.1">Has an expanded lifecycle</text>
<rect class="y" x="349" y="1113" width="51" height="11"/><text x="351" y="1117.7">Contains guidance for<tspan x="351" dy="3.8">different stages in its lifecycle</tspan></text>
<rect class="y" x="342" y="1130" width="57" height="6"/><text x="344" y="1134.1">Will not be reframed in one session</text>
<rect class="y" x="276" y="1128" width="51" height="11"/><text x="278" y="1132.7">Will develop over time and<tspan x="278" dy="3.8">represent improvement</tspan></text>

<rect class="y" x="470" y="1218" width="14" height="6"/><text x="472" y="1222.1">Ideas</text>
<rect class="y" x="398" y="1153" width="57" height="7"/><text x="400" y="1157.6">Defining the steps or independent?</text>
<rect class="y" x="340" y="1150" width="43" height="6"/><text x="342" y="1154.1">Design is supported as users</text><rect class="ic" x="385" y="1151" width="4" height="4"/>
<rect class="y" x="280" y="1150" width="43" height="6"/><text x="282" y="1154.1">Templates with Guidance</text>
<rect class="y" x="335" y="1161" width="48" height="6"/><text x="337" y="1165.1">Styles defined (per topic)</text><rect class="ic" x="385" y="1162" width="4" height="4"/>
<rect class="y" x="415" y="1180" width="40" height="11"/><text x="417" y="1184.7">What defines a content /<tspan x="417" dy="3.8">is a process?</tspan></text>
<rect class="y" x="356" y="1176" width="44" height="6"/><text x="358" y="1180.1">Exercise for the process</text>
<rect class="y" x="356" y="1192" width="44" height="6"/><text x="358" y="1196.1">Content / Separated process</text>
<rect class="y" x="315" y="1185" width="30" height="6"/><text x="317" y="1189.1">Unique content</text>
<rect class="y" x="315" y="1196" width="28" height="6"/><text x="317" y="1200.1">Self-evident</text>
<rect class="y" x="395" y="1222" width="60" height="7"/><text x="397" y="1226.6">What is the role of the ideas / Basics?</text>
<rect class="y" x="350" y="1209" width="37" height="6"/><text x="352" y="1213.1">Clear mapping of a Reason</text>
<rect class="y" x="305" y="1218" width="45" height="11"/><text x="307" y="1222.7">Concept as the 'go to' tool<tspan x="307" dy="3.8">to the current process</tspan></text>
<rect class="y" x="350" y="1232" width="30" height="6"/><text x="352" y="1236.1">Build a class model</text>
<rect class="y" x="385" y="1262" width="70" height="7"/><text x="387" y="1266.6">What should the action / Tips be?</text>
<rect class="y" x="325" y="1247" width="40" height="6"/><text x="327" y="1251.1">The practical reasons says</text>
<rect class="y" x="328" y="1256" width="40" height="6"/><text x="330" y="1260.1">Limiting factor planning</text>
<rect class="y" x="340" y="1266" width="28" height="6"/><text x="342" y="1270.1">Conclusions</text>
<rect class="y" x="330" y="1276" width="38" height="6"/><text x="332" y="1280.1">Confusing behaviour</text>
<rect class="y" x="387" y="1290" width="71" height="11"/><text x="389" y="1294.7">What are the benefits of using the template<tspan x="389" dy="3.8">feature for a process-based above?</tspan></text>
<rect class="y" x="315" y="1293" width="51" height="6"/><text x="317" y="1297.1">There's many one default topic</text><rect class="ic" x="369" y="1294" width="4" height="4"/>

<rect class="y" x="486" y="1318" width="41" height="9"/><circle class="bl" cx="490" cy="1322.5" r="1.6"/><text x="493" y="1323.6">Manage a project</text><rect class="ic" x="530" y="1321" width="7" height="4"/>
<rect class="o" x="398" y="1309" width="67" height="7"/><text class="ot" x="400" y="1313.6">Template: Manage a project (development map)</text><rect class="ar" x="468" y="1310" width="4" height="5"/>
<rect class="o" x="407" y="1319" width="58" height="6"/><text class="ot" x="409" y="1323.1">Template: Managing a project (long term)</text><rect class="ar" x="468" y="1320" width="4" height="5"/>
<rect class="o" x="427" y="1330" width="38" height="6"/><text class="ot" x="429" y="1334.1">Template: Manage a project</text><rect class="ar" x="468" y="1330" width="4" height="5"/>
<rect class="y" x="486" y="1352" width="41" height="9"/><circle class="bl" cx="490" cy="1356.5" r="1.6"/><text x="493" y="1357.6">Create a document</text><rect class="ic" x="530" y="1355" width="7" height="4"/>
<rect class="o" x="397" y="1343" width="68" height="6"/><text class="ot" x="399" y="1347.1">Template: Create a document (development map)</text><rect class="ar" x="468" y="1343" width="4" height="5"/>
<rect class="o" x="410" y="1353" width="55" height="6"/><text class="ot" x="412" y="1357.1">Template: Create a document (formal)</text><rect class="ar" x="468" y="1353" width="4" height="5"/>
<rect class="o" x="406" y="1364" width="59" height="6"/><text class="ot" x="408" y="1368.1">Template: Proofing a document (long term)</text><rect class="ar" x="468" y="1364" width="4" height="5"/>
<rect class="y" x="486" y="1399" width="41" height="12"/><circle class="bl" cx="490" cy="1405" r="1.6"/><text x="493" y="1404.2">Plan and deliver a<tspan x="493" dy="3.8">project</tspan></text><rect class="ic" x="530" y="1403" width="7" height="4"/>
<rect class="o" x="393" y="1376" width="74" height="9"/><circle class="bl" cx="402" cy="1380.5" r="1.6"/><text class="ot" x="405" y="1381.6">Advanced business project template</text><rect class="ar" x="470" y="1378" width="4" height="5"/>
<rect class="y" x="429" y="1402" width="44" height="8"/><circle cx="434" cy="1406" r="2" fill="none" stroke="#2d8fc9" stroke-width=".6" stroke-dasharray=".8 .5"/><text x="438" y="1407.1">PMBOK project map</text>
<rect class="y" x="337" y="1389" width="78" height="13"/><rect x="339" y="1393.5" width="3" height="3" fill="#fff" stroke="#555" stroke-width=".3"/><text x="344" y="1394.7">Aim to produce alignment with PMBOK for a<tspan x="344" dy="3.8">small project, not a full implementation</tspan></text>
<rect class="y" x="368" y="1404" width="47" height="7"/><rect x="370" y="1406" width="3" height="3" fill="#fff" stroke="#555" stroke-width=".3"/><text x="375" y="1408.6">Cover PMBOK principles</text>
<rect class="y" x="343" y="1414" width="72" height="7"/><rect x="345" y="1416" width="3" height="3" fill="#fff" stroke="#555" stroke-width=".3"/><text x="350" y="1418.6">Various sowing techniques and ambition</text>
<rect class="y" x="418" y="1427" width="55" height="6"/><text x="420" y="1431.1">Implement Agile project template</text>

<rect class="y" x="500" y="1500" width="35" height="10"/><circle class="bl" cx="504" cy="1505" r="1.6"/><text x="507" y="1506.1">Learn something</text>
<rect class="y" x="444" y="1440" width="41" height="6"/><text x="446" y="1444.1">Mind to learn something</text>
<rect class="y" x="444" y="1450" width="41" height="6"/><text x="446" y="1454.1">Keep a notebook handy</text>
<rect class="y" x="466" y="1460" width="19" height="6"/><text x="468" y="1464.1">Outlining</text>
<rect class="y" x="462" y="1470" width="23" height="6"/><text x="464" y="1474.1">Note taking</text>
<rect class="y" x="415" y="1470" width="33" height="6"/><text x="417" y="1474.1">A paper manuscript</text>
<rect class="y" x="447" y="1480" width="38" height="6"/><text x="449" y="1484.1">Build a mental model</text>
<rect class="y" x="451" y="1490" width="34" height="6"/><text x="453" y="1494.1">Revise or study</text>
<rect class="y" x="460" y="1500" width="25" height="6"/><text x="462" y="1504.1">Brainstorm</text>
<rect class="y" x="449" y="1510" width="36" height="6"/><text x="451" y="1514.1">Solve understanding</text>
<rect class="y" x="441" y="1520" width="44" height="6"/><text x="443" y="1524.1">Create a knowledge base</text>
<rect class="y" x="467" y="1530" width="18" height="6"/><text x="469" y="1534.1">Research</text>
<rect class="y" x="455" y="1540" width="30" height="6"/><text x="457" y="1544.1">Decision making</text>
<rect class="y" x="459" y="1550" width="26" height="6"/><text x="461" y="1554.1">Web shopping</text>
<rect class="y" x="440" y="1560" width="45" height="6"/><text x="442" y="1564.1">Write an Article or Ideas</text>

<rect class="y" x="500" y="1598" width="36" height="14"/><circle class="bl" cx="504" cy="1605" r="1.6"/><text x="507" y="1604.2">Organisation &amp;<tspan x="507" dy="3.8">Work: interaction</tspan></text>
<rect class="y" x="468" y="1572" width="17" height="6"/><text x="470" y="1576.1">Events</text>
<rect class="y" x="465" y="1582" width="20" height="6"/><text x="467" y="1586.1">Organise</text>
<rect class="y" x="437" y="1592" width="48" height="6"/><text x="439" y="1596.1">Promote &amp; advertise activities</text>
<rect class="y" x="468" y="1602" width="17" height="6"/><text x="470" y="1606.1">Meet up</text>
<rect class="y" x="468" y="1612" width="17" height="6"/><text x="470" y="1616.1">Holiday</text>
<rect class="y" x="474" y="1622" width="11" height="6"/><text x="476" y="1626.1">Trip</text>
<rect class="y" x="450" y="1632" width="35" height="6"/><text x="452" y="1636.1">Home &amp; environment</text>

<!-- RED -->
<rect x="594" y="1664" width="25" height="12" rx="6" fill="#f8b29a" stroke="#e8775a" stroke-width=".8"/>
<text x="606.5" y="1671.2" text-anchor="middle" style="font-size:3.6px;fill:#5a2010">Ideas</text>
<rect class="r" x="499" y="1644" width="80" height="10"/><circle class="bl" cx="503" cy="1649" r="1.6"/><text x="506" y="1648.2">Now: Create a start-to-finish map, simulate<tspan x="506" dy="3.8">search / read / write user journeys</tspan></text>
<rect class="r" x="499" y="1659" width="80" height="11"/><circle class="bl" cx="503" cy="1664.5" r="1.6"/><text x="506" y="1663.7">Know: read the mentioned process in book<tspan x="506" dy="3.8">as used as templates</tspan></text>
<rect class="r" x="499" y="1673" width="80" height="10"/><circle class="bl" cx="503" cy="1678" r="1.6"/><text x="506" y="1677.2">Think: about ways to support mental model<tspan x="506" dy="3.8">insights to template features</tspan></text>
<rect class="r" x="518" y="1688" width="61" height="10"/><circle class="bl" cx="522" cy="1693" r="1.6"/><text x="525" y="1694.1">Present ideas in focus framework</text>
</svg>
</body></html>
